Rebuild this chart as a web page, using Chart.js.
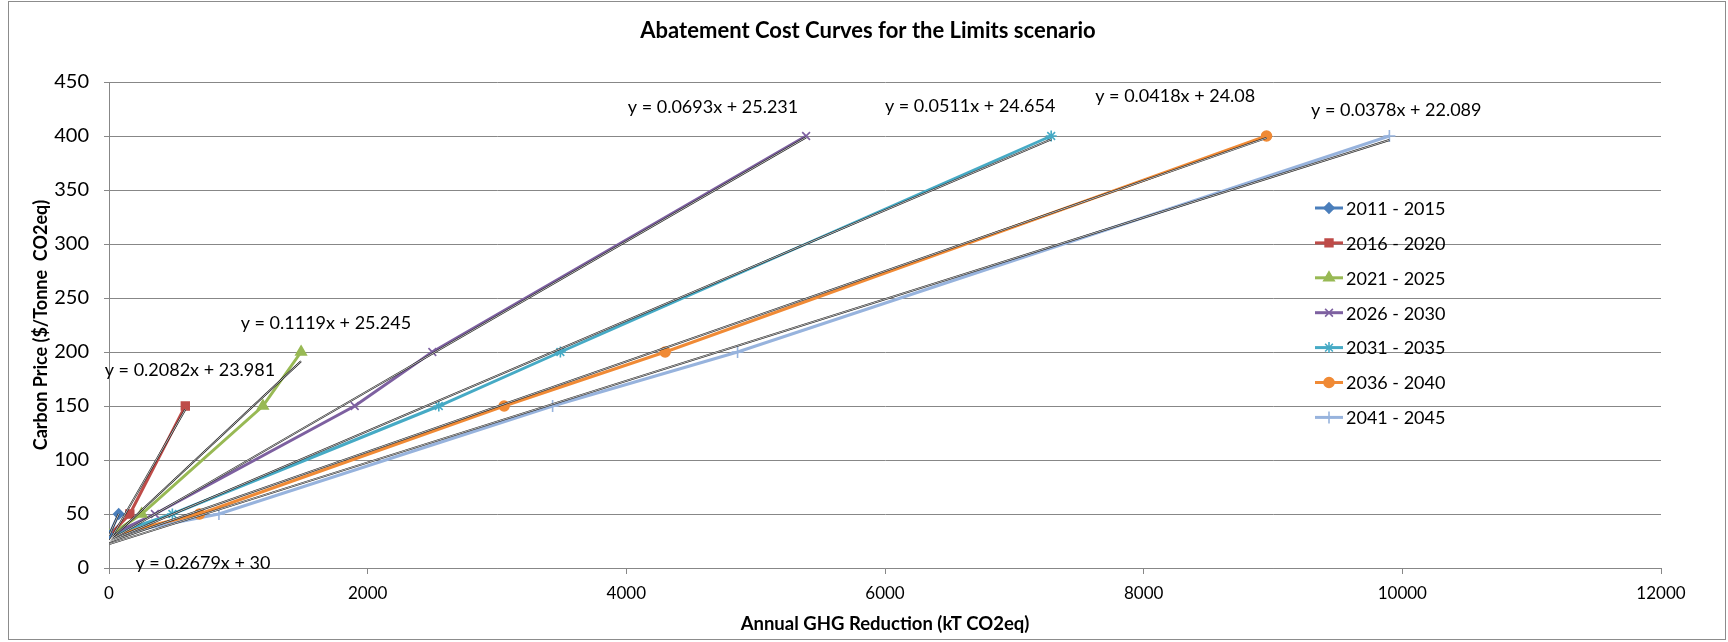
<!DOCTYPE html>
<html>
<head>
<meta charset="utf-8">
<title>Abatement Cost Curves for the Limits scenario</title>
<script src="https://cdn.jsdelivr.net/npm/chart.js@4/dist/chart.umd.min.js"></script>
<style>
  html, body { margin: 0; padding: 0; background: #ffffff; }
  #wrap { position: relative; width: 1728px; height: 642px; }
  canvas { display: block; }
</style>
</head>
<body>
<div id="wrap"><canvas id="acc" width="1728" height="642"></canvas></div>
<script>
// Period names (one curve per five-year period)
const periods = ['2011 - 2015', '2016 - 2020', '2021 - 2025', '2026 - 2030', '2031 - 2035', '2036 - 2040', '2041 - 2045'];

// Annual GHG reduction (kT CO2eq) and carbon price ($/tonne) for each period
const reduction2011 = [0, 75];
const price2011 = [30, 50];
const reduction2016 = [0, 161, 590];
const price2016 = [30, 50, 150];
const reduction2021 = [0, 252, 1190, 1485];
const price2021 = [30, 50, 150, 200];
const reduction2026 = [0, 355, 1900, 2500, 5390];
const price2026 = [30, 50, 150, 200, 400];
const reduction2031 = [0, 490, 2550, 3490, 7285];
const price2031 = [30, 50, 150, 200, 400];
const reduction2036 = [0, 700, 3055, 4300, 8950];
const price2036 = [30, 50, 150, 200, 400];
const reduction2041 = [0, 850, 3430, 4860, 9900];
const price2041 = [30, 50, 150, 200, 400];

// Linear trendline coefficients (y = slope * x + intercept), one per period
const trendSlopes = [0.2679, 0.2082, 0.1119, 0.0693, 0.0511, 0.0418, 0.0378];
const trendIntercepts = [30, 23.981, 25.245, 25.231, 24.654, 24.08, 22.089];

// Axis ticks
const xTicks = [0, 2000, 4000, 6000, 8000, 10000, 12000];
const yTicks = [0, 50, 100, 150, 200, 250, 300, 350, 400, 450];

const chartTitle = 'Abatement Cost Curves for the Limits scenario';

const reductions = [reduction2011, reduction2016, reduction2021, reduction2026, reduction2031, reduction2036, reduction2041];
const prices = [price2011, price2016, price2021, price2026, price2031, price2036, price2041];

// Styling
const seriesColors = ['#4A7EBB', '#BE4B48', '#98B954', '#7D60A0', '#46AAC5', '#F08A35', '#97B3DD'];
const seriesMarkers = [
  { pointStyle: 'rectRot', radius: 5 },
  { pointStyle: 'rect', radius: 5.5 },
  { pointStyle: 'triangle', radius: 6 },
  { pointStyle: 'crossRot', radius: 5.5 },
  { pointStyle: 'star', radius: 5.5 },
  { pointStyle: 'circle', radius: 5 },
  { pointStyle: 'cross', radius: 6 }
];
// Where each trendline equation is written, in data units (x, y)
const equationAnchors = [
  [726, 4], [626, 183], [1677, 227], [4670, 427], [6658, 428], [8244, 437], [9953, 424]
];

const FONT = 'Lato, "Open Sans", sans-serif';
const GRID = '#878787';

const datasets = [];
periods.forEach((name, i) => {
  datasets.push({
    label: name,
    data: reductions[i].map((x, k) => ({ x: x, y: prices[i][k] })),
    borderColor: seriesColors[i],
    backgroundColor: seriesColors[i],
    borderWidth: 3,
    pointStyle: seriesMarkers[i].pointStyle,
    pointRadius: seriesMarkers[i].radius,
    pointHoverRadius: seriesMarkers[i].radius,
    pointBorderWidth: 1.6,
    pointBorderColor: seriesColors[i],
    pointBackgroundColor: seriesColors[i],
    showLine: true,
    tension: 0,
    order: 3
  });
});
// Trendlines run across each period's data range
periods.forEach((name, i) => {
  const xs = reductions[i];
  const x0 = Math.min(...xs), x1 = Math.max(...xs);
  const pts = [x0, x1].map(x => ({ x: x, y: trendSlopes[i] * x + trendIntercepts[i] }));
  datasets.push({
    label: 'trend ' + name,
    data: pts,
    borderColor: '#1a1a1a',
    borderWidth: 1.9,
    pointRadius: 0,
    showLine: true,
    order: 2
  });
  datasets.push({
    label: 'trend core ' + name,
    data: pts.map(p => ({ x: p.x, y: p.y })),
    borderColor: '#ffffff',
    borderWidth: 0.7,
    pointRadius: 0,
    showLine: true,
    order: 1
  });
});

// Outer frame, title, equation labels and the in-plot legend
const decorations = {
  id: 'decorations',
  beforeDraw(chart) {
    const ctx = chart.ctx;
    ctx.save();
    ctx.strokeStyle = '#8c8c8c';
    ctx.lineWidth = 1;
    ctx.strokeRect(8.5, 1.5, 1717, 638);
    ctx.fillStyle = '#000000';
    ctx.font = 'bold 22px ' + FONT;
    ctx.textAlign = 'center';
    ctx.textBaseline = 'middle';
    ctx.fillText(chartTitle, 868, 31);
    ctx.restore();
  },
  afterDatasetsDraw(chart) {
    const ctx = chart.ctx;
    const xs = chart.scales.x, ys = chart.scales.y;
    ctx.save();
    ctx.fillStyle = '#000000';
    ctx.font = '18px ' + FONT;
    ctx.textAlign = 'center';
    ctx.textBaseline = 'middle';
    trendSlopes.forEach((m, i) => {
      const a = equationAnchors[i];
      ctx.fillText('y = ' + m + 'x + ' + trendIntercepts[i], xs.getPixelForValue(a[0]), ys.getPixelForValue(a[1]));
    });

    // legend
    const lx = 1315, ly = 208, step = 34.9;
    ctx.textAlign = 'left';
    ctx.font = '18px ' + FONT;
    periods.forEach((name, i) => {
      const y = ly + i * step;
      ctx.strokeStyle = seriesColors[i];
      ctx.lineWidth = 3;
      ctx.beginPath();
      ctx.moveTo(lx, y);
      ctx.lineTo(lx + 28, y);
      ctx.stroke();
      ctx.fillStyle = seriesColors[i];
      ctx.strokeStyle = seriesColors[i];
      ctx.lineWidth = 1.6;
      Chart.helpers.drawPoint(ctx, {
        pointStyle: seriesMarkers[i].pointStyle,
        radius: seriesMarkers[i].radius,
        rotation: 0,
        borderWidth: 1.6
      }, lx + 14, y);
      ctx.fillStyle = '#000000';
      ctx.fillText(name, lx + 31, y + 1);
    });
    ctx.restore();
  }
};

new Chart(document.getElementById('acc'), {
  type: 'scatter',
  data: { datasets: datasets },
  plugins: [decorations],
  options: {
    responsive: false,
    animation: false,
    events: [],
    layout: { padding: { top: 82, right: 67, bottom: 0, left: 0 } },
    plugins: {
      legend: { display: false },
      tooltip: { enabled: false },
      title: { display: false }
    },
    scales: {
      x: {
        type: 'linear',
        min: 0,
        max: 12000,
        afterBuildTicks(scale) { scale.ticks = xTicks.map(v => ({ value: v })); },
        afterFit(scale) { scale.height = 74; },
        grid: { drawOnChartArea: false, drawTicks: true, tickLength: 6, color: GRID },
        border: { display: true, color: GRID, width: 1 },
        ticks: {
          color: '#000000',
          font: { family: FONT, size: 17 },
          padding: 9,
          maxRotation: 0,
          callback: v => String(v)
        },
        title: {
          display: true,
          text: 'Annual GHG Reduction (kT CO2eq)',
          color: '#000000',
          font: { family: FONT, size: 18.5, weight: 'bold' },
          padding: { top: 0, bottom: 7 }
        }
      },
      y: {
        type: 'linear',
        min: 0,
        max: 450,
        afterBuildTicks(scale) { scale.ticks = yTicks.map(v => ({ value: v })); },
        afterFit(scale) { scale.width = 109; },
        grid: { drawOnChartArea: true, drawTicks: true, tickLength: 5, color: GRID },
        border: { display: true, color: GRID, width: 1 },
        ticks: {
          color: '#000000',
          font: { family: FONT, size: 20 },
          padding: 15,
          callback: v => String(v)
        },
        title: {
          display: true,
          text: 'Carbon Price ($/Tonne  CO2eq)',
          color: '#000000',
          font: { family: FONT, size: 18, weight: 'bold' },
          padding: { top: 30, bottom: 0 }
        }
      }
    }
  }
});
</script>
</body>
</html>
